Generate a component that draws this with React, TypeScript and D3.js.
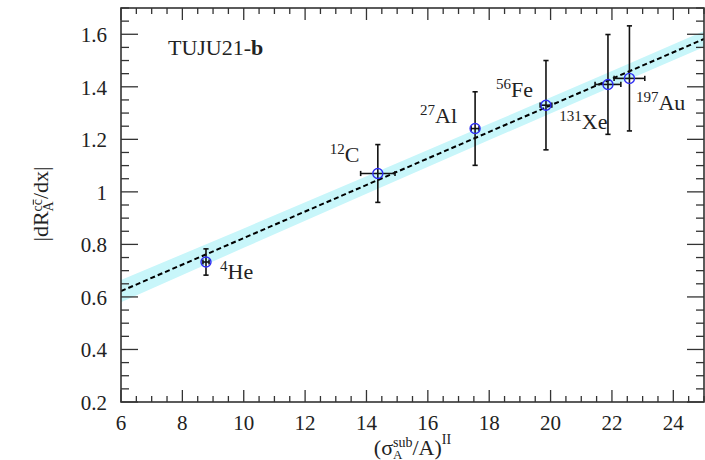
import React, { useEffect, useRef } from "react";
import * as d3 from "d3";

// Measured nuclei
const massNumbers = ["4", "12", "27", "56", "131", "197"];
const elements = ["He", "C", "Al", "Fe", "Xe", "Au"];
const sigmaRatio = [8.77, 14.37, 17.54, 19.85, 21.87, 22.57];
const sigmaErr = [0.1, 0.56, 0.13, 0.19, 0.42, 0.5];
const slope = [0.733, 1.07, 1.241, 1.33, 1.409, 1.432];
const slopeErr = [0.05, 0.11, 0.14, 0.17, 0.19, 0.2];
// Label anchors (data coordinates, start of text / baseline)
const labelX = [9.23, 12.8, 15.745, 18.22, 20.285, 22.78];
const labelY = [0.667, 1.115, 1.261, 1.36, 1.241, 1.311];

// Linear fit and its uncertainty band
const fitX = [6, 25];
const fitY = [0.622, 1.582];
const bandX = [6, 10, 14, 18, 22, 25];
const bandLow = [0.58, 0.787, 0.993, 1.197, 1.4, 1.552];
const bandHigh = [0.664, 0.861, 1.059, 1.259, 1.46, 1.612];

const xTickLabels = [6, 8, 10, 12, 14, 16, 18, 20, 22, 24];
const yTickLabels = [0.2, 0.4, 0.6, 0.8, 1, 1.2, 1.4, 1.6];

const W = 705;
const H = 460;
const L = 121;
const R = 704;
const T = 8;
const B = 402;
const FONT = "'Liberation Serif', 'Times New Roman', serif";
const INK = "#222";

const x = d3.scaleLinear().domain([6, 25]).range([L, R]);
const y = d3.scaleLinear().domain([0.2, 1.7]).range([B, T]);

type Run = {
  t: string;
  size: number;
  dy?: number;
  mark?: boolean;
  back?: boolean;
  overline?: boolean;
};

function drawRich(g: d3.Selection<SVGGElement, unknown, null, undefined>, runs: Run[]) {
  let cursor = 0;
  let stackStart = 0;
  runs.forEach((r) => {
    const sx = r.back ? stackStart : cursor;
    if (r.mark) stackStart = sx;
    const t = g
      .append("text")
      .attr("x", sx)
      .attr("y", r.dy || 0)
      .attr("font-size", r.size)
      .attr("font-family", FONT)
      .attr("fill", INK)
      .text(r.t);
    const w = (t.node() as SVGTextElement).getComputedTextLength();
    if (r.overline) {
      const oy = (r.dy || 0) - r.size * 0.62;
      g.append("line")
        .attr("x1", sx + 0.5)
        .attr("x2", sx + w - 0.5)
        .attr("y1", oy)
        .attr("y2", oy)
        .attr("stroke", INK)
        .attr("stroke-width", 1);
    }
    cursor = r.back ? Math.max(cursor, sx + w) : sx + w;
  });
  return cursor;
}

export default function App() {
  const xTitleRef = useRef<SVGGElement>(null);
  const yTitleRef = useRef<SVGGElement>(null);

  useEffect(() => {
    const gx = d3.select(xTitleRef.current as SVGGElement);
    gx.selectAll("*").remove();
    const inner = gx.append("g");
    const wx = drawRich(inner, [
      { t: "(σ", size: 22 },
      { t: "sub", size: 14, dy: -8, mark: true },
      { t: "A", size: 13, dy: 4, back: true },
      { t: "/A)", size: 22 },
      { t: "II", size: 14, dy: -11 },
    ]);
    inner.attr("transform", `translate(${-wx / 2},0)`);

    const gy = d3.select(yTitleRef.current as SVGGElement);
    gy.selectAll("*").remove();
    const innerY = gy.append("g");
    const wy = drawRich(innerY, [
      { t: "|dR", size: 22 },
      { t: "c", size: 14, dy: -6, mark: true },
      { t: "c", size: 14, dy: -6, overline: true },
      { t: "A", size: 14, dy: 5, back: true },
      { t: "/dx|", size: 22 },
    ]);
    innerY.attr("transform", `translate(${-wy / 2},0)`);
  }, []);

  const xMinor = d3.range(0, 39).map((i) => 6 + i * 0.5);
  const yMinor = d3.range(0, 31).map((i) => 0.2 + i * 0.05);
  const isXMajor = (v: number) => Math.abs(v / 2 - Math.round(v / 2)) < 1e-6;
  const isYMajor = (i: number) => i % 4 === 0;

  const bandArea = d3
    .area<number>()
    .x((_, i) => x(bandX[i]))
    .y0((_, i) => y(bandLow[i]))
    .y1((_, i) => y(bandHigh[i]));
  const fitLine = d3
    .line<number>()
    .x((_, i) => x(fitX[i]))
    .y((_, i) => y(fitY[i]));

  const cap = 2.6;

  return (
    <div style={{ position: "absolute", left: 0, top: 0 }}>
      <svg width={W} height={H} style={{ display: "block", background: "#fff" }}>
        <defs>
          <clipPath id="plotClip">
            <rect x={L} y={T} width={R - L} height={B - T} />
          </clipPath>
        </defs>

        <g clipPath="url(#plotClip)">
          <path d={bandArea(bandX) || ""} fill="#c8f6fa" stroke="none" />
          <path
            d={fitLine(fitX) || ""}
            fill="none"
            stroke="#000"
            strokeWidth={2}
            strokeDasharray="5 3"
          />
        </g>

        {/* error bars */}
        {sigmaRatio.map((sx, i) => {
          const cx = x(sx);
          const cy = y(slope[i]);
          const x0 = x(sx - sigmaErr[i]);
          const x1 = x(sx + sigmaErr[i]);
          const y0 = y(slope[i] - slopeErr[i]);
          const y1 = y(slope[i] + slopeErr[i]);
          return (
            <g key={"e" + i} stroke="#111" strokeWidth={1.6}>
              <line x1={cx} x2={cx} y1={y0} y2={y1} />
              <line x1={cx - cap} x2={cx + cap} y1={y0} y2={y0} />
              <line x1={cx - cap} x2={cx + cap} y1={y1} y2={y1} />
              <line x1={x0} x2={x1} y1={cy} y2={cy} />
              <line x1={x0} x2={x0} y1={cy - cap} y2={cy + cap} />
              <line x1={x1} x2={x1} y1={cy - cap} y2={cy + cap} />
            </g>
          );
        })}
        {sigmaRatio.map((sx, i) => (
          <circle
            key={"c" + i}
            cx={x(sx)}
            cy={y(slope[i])}
            r={5}
            fill="none"
            stroke="#2e2ef2"
            strokeWidth={1.4}
          />
        ))}

        {/* frame */}
        <rect
          x={L}
          y={T}
          width={R - L}
          height={B - T}
          fill="none"
          stroke="#333"
          strokeWidth={1.6}
        />

        {/* x ticks (bottom and top) */}
        {xMinor.map((v, i) => {
          const len = isXMajor(v) ? 12 : 6;
          const px = x(v);
          return (
            <g key={"xt" + i} stroke="#333" strokeWidth={1.3}>
              <line x1={px} x2={px} y1={B} y2={B - len} />
              <line x1={px} x2={px} y1={T} y2={T + len} />
            </g>
          );
        })}
        {/* y ticks (left and right) */}
        {yMinor.map((v, i) => {
          const len = isYMajor(i) ? 17 : 8;
          const py = y(v);
          return (
            <g key={"yt" + i} stroke="#333" strokeWidth={1.3}>
              <line x1={L} x2={L + len} y1={py} y2={py} />
              <line x1={R} x2={R - len} y1={py} y2={py} />
            </g>
          );
        })}

        {/* tick labels */}
        {xTickLabels.map((v) => (
          <text
            key={"xl" + v}
            x={x(v)}
            y={430}
            textAnchor="middle"
            fontFamily={FONT}
            fontSize={21}
            fill={INK}
          >
            {v}
          </text>
        ))}
        {yTickLabels.map((v) => (
          <text
            key={"yl" + v}
            x={107}
            y={y(v) + 8}
            textAnchor="end"
            fontFamily={FONT}
            fontSize={21}
            fill={INK}
          >
            {String(+v.toFixed(1))}
          </text>
        ))}

        {/* axis titles */}
        <g ref={xTitleRef} transform={`translate(${(L + R) / 2},455)`} />
        <g ref={yTitleRef} transform={`translate(48,204) rotate(-90)`} />

        {/* panel tag */}
        <text x={x(7.53)} y={y(1.52)} fontFamily={FONT} fontSize={22} fill={INK}>
          <tspan>TUJU21-</tspan>
          <tspan fontWeight="bold">b</tspan>
        </text>

        {/* nucleus labels */}
        {elements.map((el, i) => (
          <text
            key={"n" + i}
            x={x(labelX[i])}
            y={y(labelY[i])}
            fontFamily={FONT}
            fill={INK}
          >
            <tspan fontSize={15} dy={-8}>
              {massNumbers[i]}
            </tspan>
            <tspan fontSize={22} dy={8}>
              {el}
            </tspan>
          </text>
        ))}
      </svg>
    </div>
  );
}
